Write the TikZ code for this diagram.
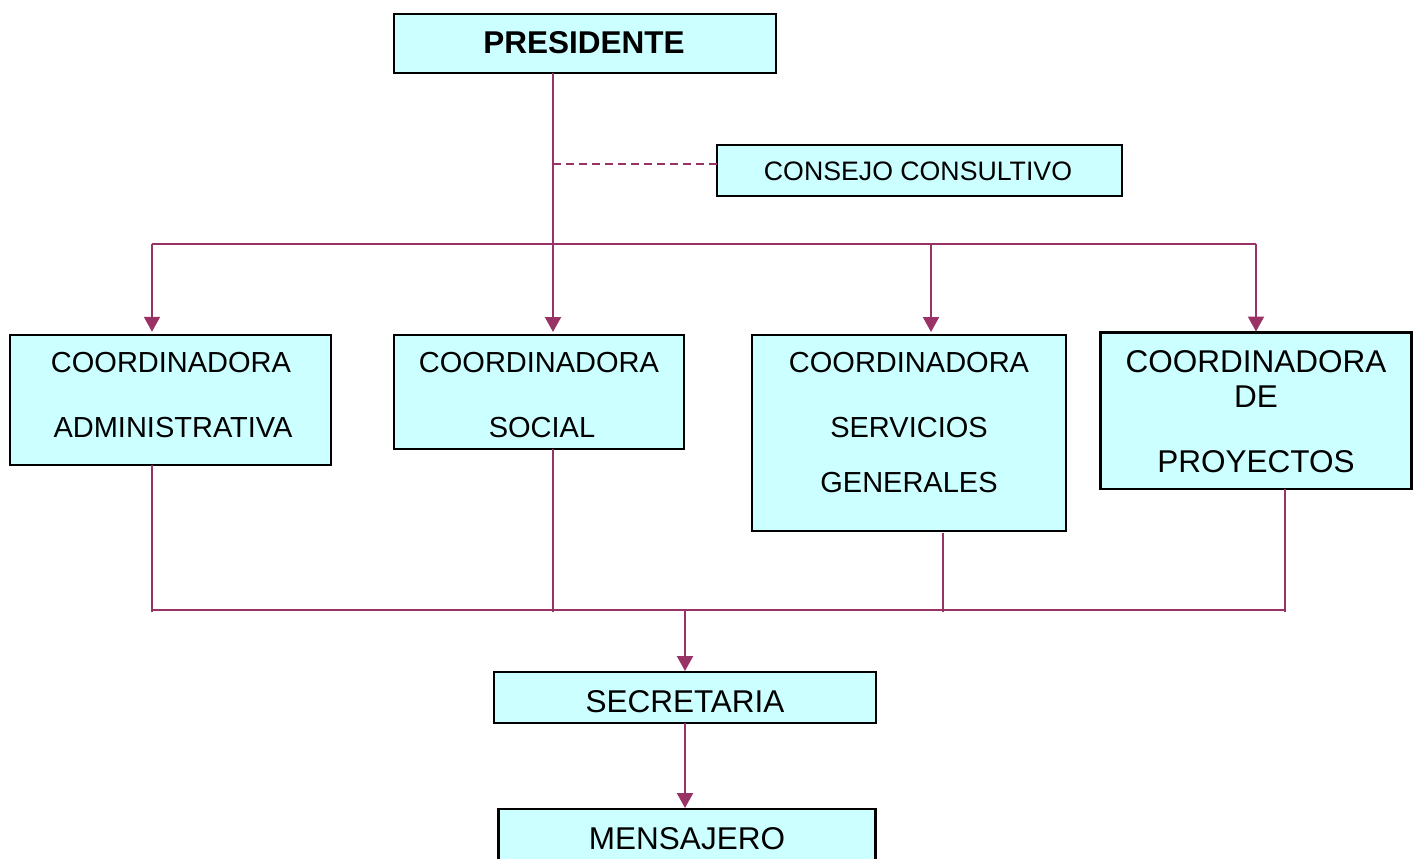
\documentclass[tikz,border=0pt]{standalone}
\usepackage{fontspec}
\setmainfont{Liberation Sans}
\usetikzlibrary{arrows.meta}
\definecolor{lin}{HTML}{993366}
\definecolor{boxfill}{HTML}{CCFFFF}
\begin{document}
\begin{tikzpicture}[x=1pt,y=-1pt,
  box/.style={draw=black,fill=boxfill,line width=2.2pt,rectangle,inner sep=0pt,outer sep=0pt},
  conn/.style={draw=lin,line width=2.2pt},
  arr/.style={conn,-{Triangle[width=16pt,length=15pt]}},
  dashline/.style={conn,dash pattern=on 8pt off 5pt},
  txtA/.style={anchor=base,inner sep=0pt,font=\fontsize{29}{29}\selectfont},
  txtB/.style={anchor=base,inner sep=0pt,font=\fontsize{31.5}{31.5}\selectfont},
  txtC/.style={anchor=base,inner sep=0pt,font=\fontsize{26.7}{26.7}\selectfont},
  txtP/.style={anchor=base,inner sep=0pt,font=\fontsize{31.5}{31.5}\selectfont\bfseries}]
\useasboundingbox (0,0) rectangle (1419,859);

% boxes
\node[box,minimum width=382pt,minimum height=59pt] (pres) at (585,43.5) {};
\node[box,minimum width=405pt,minimum height=51pt] (cons) at (919.5,170.5) {};
\node[box,minimum width=321pt,minimum height=130.5pt] (c1) at (170.5,400) {};
\node[box,minimum width=290pt,minimum height=114pt] (c2) at (539,392) {};
\node[box,minimum width=314pt,minimum height=196pt] (c3) at (909,433) {};
\node[box,minimum width=311pt,minimum height=156.5pt] (c4) at (1256,410.75) {};
\node[box,minimum width=382pt,minimum height=51pt] (sec) at (685,697.5) {};
\node[box,minimum width=377pt,minimum height=70pt] (men) at (687,844) {};

% texts
\node[txtP] (tpres) at (584,54) {PRESIDENTE};
\node[txtC] (tcons) at (918,180) {CONSEJO CONSULTIVO};
\node[txtA] (t1a) at (171,372) {COORDINADORA};
\node[txtA] (t1b) at (173,437) {ADMINISTRATIVA};
\node[txtA] (t2a) at (539,372) {COORDINADORA};
\node[txtA] (t2b) at (542,437) {SOCIAL};
\node[txtA] (t3a) at (909,372) {COORDINADORA};
\node[txtA] (t3b) at (909,437) {SERVICIOS};
\node[txtA] (t3c) at (909,492) {GENERALES};
\node[txtB] (t4a) at (1256,372) {COORDINADORA};
\node[txtB] (t4b) at (1256,407) {DE};
\node[txtB] (t4c) at (1256,472) {PROYECTOS};
\node[txtB] (tsec) at (685,712) {SECRETARIA};
\node[txtB] (tmen) at (687,849) {MENSAJERO};

% junction coordinates
\coordinate (d0) at (553,164);
\coordinate (h1) at (152,244);
\coordinate (h2) at (553,244);
\coordinate (h3) at (931,244);
\coordinate (h4) at (1256,244);
\coordinate (b1) at (152,612);
\coordinate (b2) at (553,612);
\coordinate (b3) at (943,612);
\coordinate (b4) at (1285,612);
\coordinate (bl) at (152,610);
\coordinate (br) at (1285,610);
\coordinate (bm) at (685,610);

% connectors
\draw[dashline] (d0) -- (cons.west |- d0);
\draw[conn] (h1) -- (h4);
\draw[arr,shorten >=3pt] (pres.south -| h2) -- (c2.north -| h2);
\draw[arr,shorten >=3pt] (h1) -- (c1.north -| h1);
\draw[arr,shorten >=3pt] (h3) -- (c3.north -| h3);
\draw[arr,shorten >=1pt] (h4) -- (c4.north -| h4);

\draw[conn] (c1.south -| b1) -- (b1);
\draw[conn] (c2.south -| b2) -- (b2);
\draw[conn] ([yshift=-2pt]c3.south -| b3) -- (b3);
\draw[conn] (c4.south -| b4) -- (b4);
\draw[conn] (bl) -- (br);
\draw[arr,shorten >=1pt] (bm) -- (sec.north -| bm);
\draw[arr,shorten >=1pt] (sec.south -| bm) -- (men.north -| bm);
\end{tikzpicture}
\end{document}
